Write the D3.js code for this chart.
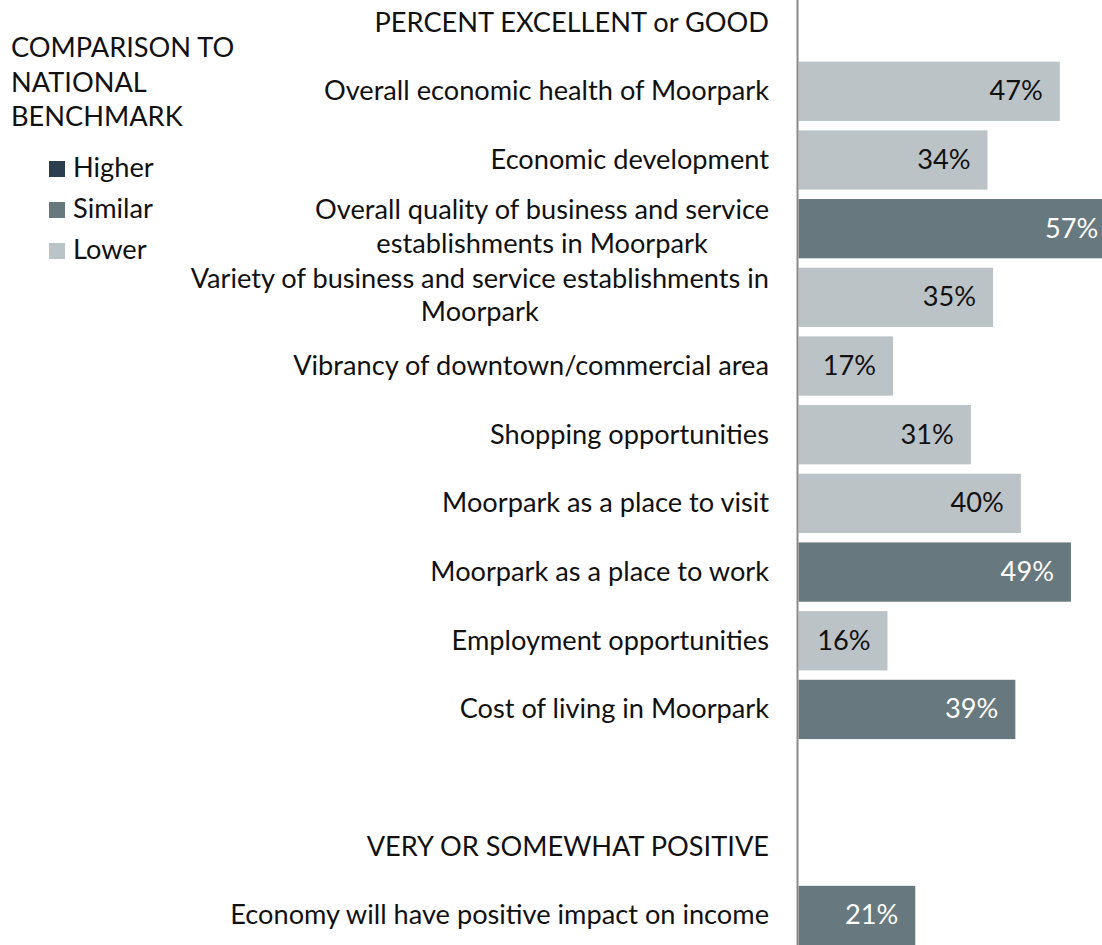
<!DOCTYPE html>
<html>
<head>
<meta charset="utf-8">
<script src="https://cdn.jsdelivr.net/npm/d3@7"></script>
<style>
  html, body { margin: 0; padding: 0; background: #fff; }
  svg { display: block; }
</style>
</head>
<body>
<svg id="chart" width="1102" height="945"></svg>
<script>
// ---- data ----
const categories = [
  "PERCENT EXCELLENT or GOOD",
  "Overall economic health of Moorpark",
  "Economic development",
  "Overall quality of business and service establishments in Moorpark",
  "Variety of business and service establishments in Moorpark",
  "Vibrancy of downtown/commercial area",
  "Shopping opportunities",
  "Moorpark as a place to visit",
  "Moorpark as a place to work",
  "Employment opportunities",
  "Cost of living in Moorpark",
  "",
  "VERY OR SOMEWHAT POSITIVE",
  "Economy will have positive impact on income"
];
const labelLines = [
  ["PERCENT EXCELLENT or GOOD"],
  ["Overall economic health of Moorpark"],
  ["Economic development"],
  ["Overall quality of business and service", "establishments in Moorpark"],
  ["Variety of business and service establishments in", "Moorpark"],
  ["Vibrancy of downtown/commercial area"],
  ["Shopping opportunities"],
  ["Moorpark as a place to visit"],
  ["Moorpark as a place to work"],
  ["Employment opportunities"],
  ["Cost of living in Moorpark"],
  [],
  ["VERY OR SOMEWHAT POSITIVE"],
  ["Economy will have positive impact on income"]
];
const values = [null, 47, 34, 57, 35, 17, 31, 40, 49, 16, 39, null, null, 21];
const comparison = [null, "Lower", "Lower", "Similar", "Lower", "Lower", "Lower", "Lower", "Similar", "Lower", "Similar", null, null, "Similar"];
const legendTitle = ["COMPARISON TO", "NATIONAL", "BENCHMARK"];
const legendKeys = ["Higher", "Similar", "Lower"];
const legendColors = ["#2b3e4e", "#67787e", "#bcc3c6"];

// ---- setup ----
const svg = d3.select("#chart");
const family = "Lato, 'Open Sans', sans-serif";

// fit font size to the reference width of a known label
const probe = svg.append("text").attr("font-family", family).attr("font-size", 26.67)
  .text("Overall economic health of Moorpark");
const pw = probe.node().getComputedTextLength();
probe.remove();
const fs = 26.67 * 445 / pw;

const color = d3.scaleOrdinal().domain(legendKeys).range(legendColors);
const textColor = d3.scaleOrdinal().domain(legendKeys).range(["#ffffff", "#ffffff", "#111111"]);

const idx = d3.range(categories.length);
const y = d3.scaleBand().domain(idx).range([-16.4, 954.5]).padding(0.1366);
const x = d3.scaleLinear().domain([0, 100]).range([798.5, 1354.5]);

const labelRight = 769;

// ---- bars ----
const rows = idx.filter(i => values[i] != null);
svg.append("g").selectAll("rect").data(rows).join("rect")
  .attr("x", x(0))
  .attr("y", i => y(i))
  .attr("width", i => x(values[i]) - x(0))
  .attr("height", y.bandwidth())
  .attr("fill", i => color(comparison[i]));

svg.append("g").selectAll("text").data(rows).join("text")
  .attr("x", i => x(values[i]) - 17)
  .attr("y", i => y(i) + y.bandwidth() / 2 + 9)
  .attr("text-anchor", "end")
  .attr("font-family", family)
  .attr("font-size", fs)
  .attr("fill", i => textColor(comparison[i]))
  .text(i => values[i] + "%");

// ---- axis line ----
svg.append("line")
  .attr("x1", 797.5).attr("x2", 797.5)
  .attr("y1", 0).attr("y2", 945)
  .attr("stroke", "#8a8a8a").attr("stroke-width", 2);

// ---- category labels ----
const lg = svg.append("g");
idx.forEach(i => {
  const lines = labelLines[i];
  if (!lines.length) return;
  const cy = y(i) + y.bandwidth() / 2;
  const t = lg.append("text")
    .attr("font-family", family)
    .attr("font-size", fs)
    .attr("fill", "#111");
  if (lines.length === 1) {
    t.attr("x", labelRight).attr("y", cy + 9).attr("text-anchor", "end").text(lines[0]);
  } else {
    const widths = lines.map(l => {
      const p = lg.append("text").attr("font-family", family).attr("font-size", fs).text(l);
      const w = p.node().getComputedTextLength(); p.remove(); return w;
    });
    const cx = labelRight - d3.max(widths) / 2;
    t.attr("text-anchor", "middle");
    lines.forEach((l, k) => {
      t.append("tspan").attr("x", cx).attr("y", cy - 9.5 + k * 33.5).text(l);
    });
  }
});

// ---- legend ----
const leg = svg.append("g");
legendTitle.forEach((l, k) => {
  leg.append("text").attr("x", 11).attr("y", 57 + k * 34.5)
    .attr("font-family", family).attr("font-size", fs).attr("fill", "#111").text(l);
});
legendKeys.forEach((key, k) => {
  const by = 177 + k * 41;
  leg.append("rect").attr("x", 49).attr("y", by - 16).attr("width", 16).attr("height", 16)
    .attr("fill", color(key));
  leg.append("text").attr("x", 73).attr("y", by)
    .attr("font-family", family).attr("font-size", fs).attr("fill", "#111").text(key);
});
</script>
</body>
</html>
